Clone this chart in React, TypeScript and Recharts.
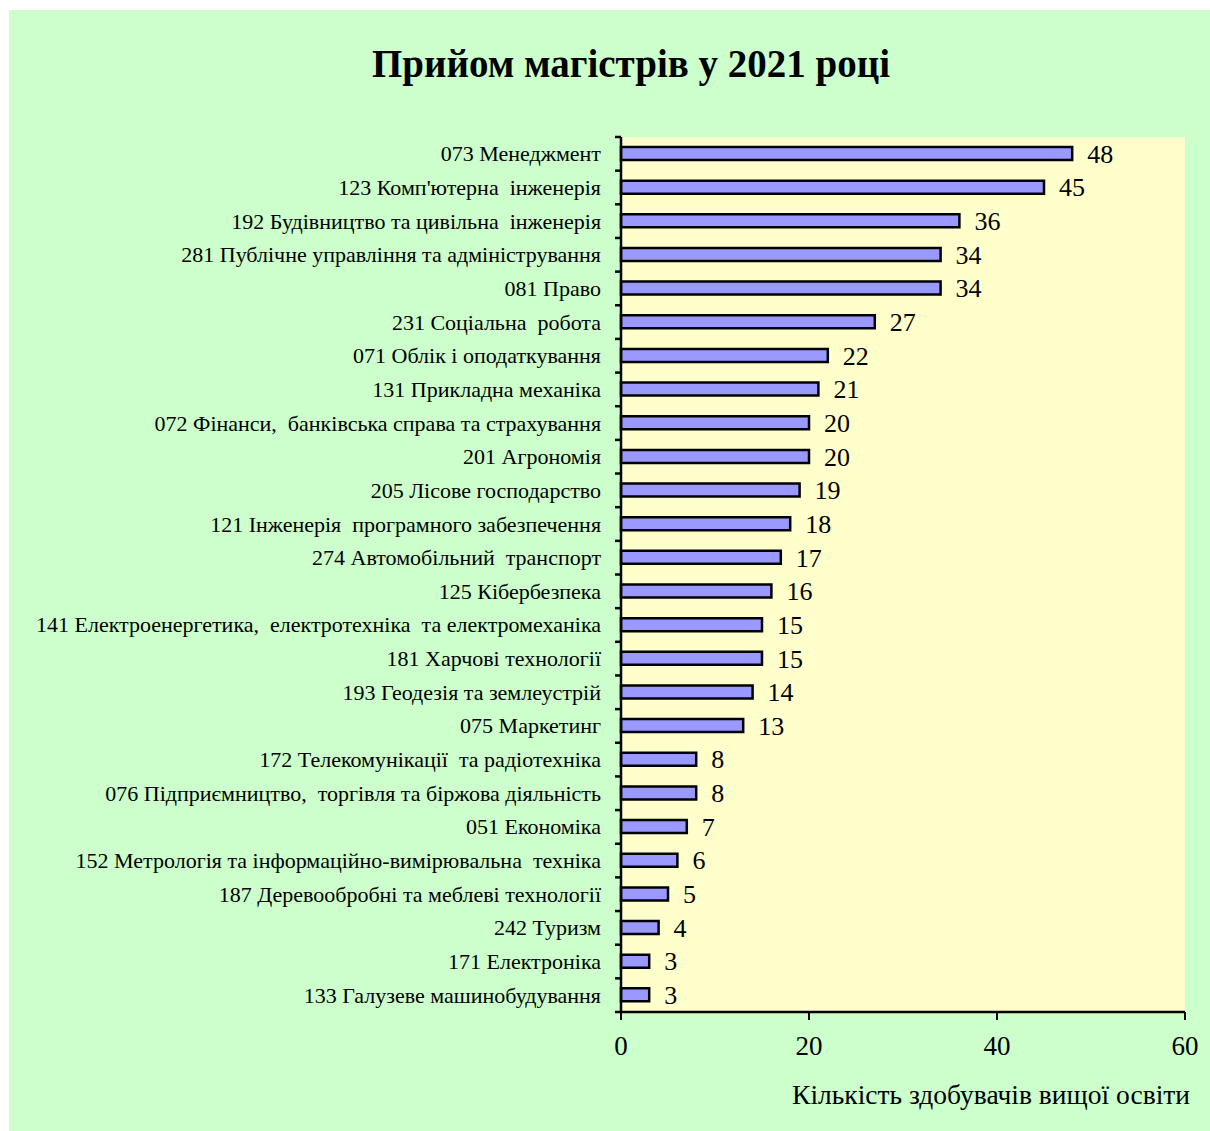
import React from 'react';
import { BarChart, Bar, XAxis, YAxis, CartesianGrid, LabelList } from 'recharts';

const categories = [
  '073 Менеджмент',
  "123 Комп'ютерна  інженерія",
  '192 Будівництво та цивільна  інженерія',
  '281 Публічне управління та адміністрування',
  '081 Право',
  '231 Соціальна  робота',
  '071 Облік і оподаткування',
  '131 Прикладна механіка',
  '072 Фінанси,  банківська справа та страхування',
  '201 Агрономія',
  '205 Лісове господарство',
  '121 Інженерія  програмного забезпечення',
  '274 Автомобільний  транспорт',
  '125 Кібербезпека',
  '141 Електроенергетика,  електротехніка  та електромеханіка',
  '181 Харчові технології',
  '193 Геодезія та землеустрій',
  '075 Маркетинг',
  '172 Телекомунікації  та радіотехніка',
  '076 Підприємництво,  торгівля та біржова діяльність',
  '051 Економіка',
  '152 Метрологія та інформаційно-вимірювальна  техніка',
  '187 Деревообробні та меблеві технології',
  '242 Туризм',
  '171 Електроніка',
  '133 Галузеве машинобудування',
];

const values = [48, 45, 36, 34, 34, 27, 22, 21, 20, 20, 19, 18, 17, 16, 15, 15, 14, 13, 8, 8, 7, 6, 5, 4, 3, 3];

const xTicks = [0, 20, 40, 60];
const titleText = 'Прийом магістрів у 2021 році';
const xAxisTitle = 'Кількість здобувачів вищої освіти';

const data = categories.map((name, i) => ({ name, value: values[i] }));

const FONT = '"Liberation Serif", "Times New Roman", serif';

function CategoryTick(props: any) {
  const { x, y, payload, index } = props;
  const half = payload && typeof payload.offset === 'number' && payload.offset > 0 ? payload.offset : 16.8;
  const axisX = x + 20;
  return (
    <g>
      <line x1={axisX - 6} x2={axisX} y1={y - half} y2={y - half} stroke="#000" strokeWidth={2.5} />
      {index === categories.length - 1 && (
        <line x1={axisX - 6} x2={axisX} y1={y + half} y2={y + half} stroke="#000" strokeWidth={2.5} />
      )}
      <text
        x={x}
        y={y}
        textAnchor="end"
        dominantBaseline="central"
        fontFamily={FONT}
        fontSize={22}
        fill="#000"
        style={{ whiteSpace: 'pre' }}
      >
        {payload.value}
      </text>
    </g>
  );
}

export default function App() {
  return (
    <div
      style={{
        position: 'absolute',
        left: 9,
        top: 10,
        width: 1201,
        height: 1121,
        background: '#CCFFCC',
        fontFamily: FONT,
      }}
    >
      <div
        style={{
          position: 'absolute',
          left: 622,
          top: 34,
          transform: 'translateX(-50%)',
          whiteSpace: 'nowrap',
          fontSize: 39,
          lineHeight: '39px',
          fontWeight: 'bold',
          color: '#000',
        }}
      >
        {titleText}
      </div>
      <BarChart
        width={1201}
        height={1121}
        data={data}
        layout="vertical"
        margin={{ top: 127, right: 25, left: 12, bottom: 59 }}
        barCategoryGap="0%"
      >
        <CartesianGrid horizontal={false} vertical={false} fill="#FFFFCC" stroke="none" />
        <XAxis
          type="number"
          domain={[0, 60]}
          ticks={xTicks}
          interval={0}
          height={60}
          tickSize={8}
          tickMargin={16}
          axisLine={{ stroke: '#000', strokeWidth: 2.5 }}
          tickLine={{ stroke: '#000', strokeWidth: 2 }}
          tick={{ fill: '#000', fontSize: 27, fontFamily: FONT }}
        />
        <YAxis
          type="category"
          dataKey="name"
          width={600}
          interval={0}
          tickSize={6}
          tickMargin={14}
          tickLine={false}
          axisLine={{ stroke: '#000', strokeWidth: 2.5 }}
          tick={<CategoryTick />}
        />
        <Bar
          dataKey="value"
          fill="#9999FF"
          stroke="#000"
          strokeWidth={2.5}
          barSize={13}
          isAnimationActive={false}
        >
          <LabelList
            dataKey="value"
            position="right"
            offset={15}
            style={{ fontSize: 26, fontFamily: FONT, fill: '#000' }}
          />
        </Bar>
      </BarChart>
      <div
        style={{
          position: 'absolute',
          right: 20,
          top: 1071,
          whiteSpace: 'nowrap',
          fontSize: 27.5,
          lineHeight: '28px',
          color: '#000',
        }}
      >
        {xAxisTitle}
      </div>
    </div>
  );
}
